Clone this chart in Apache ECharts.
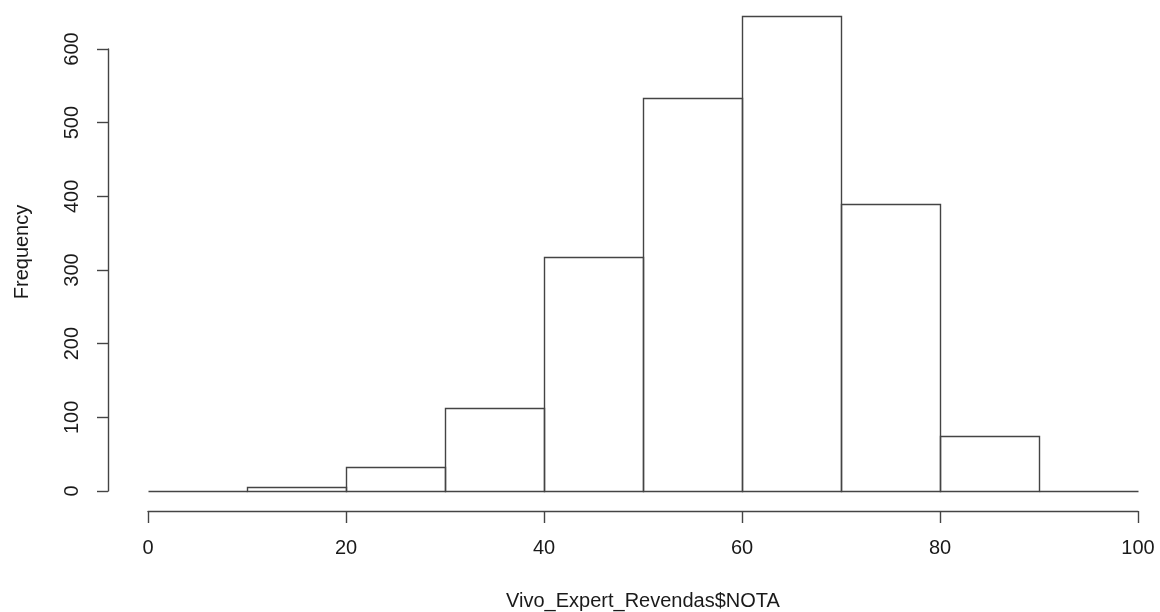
<!DOCTYPE html>
<html>
<head>
<meta charset="utf-8">
<script src="https://cdn.jsdelivr.net/npm/echarts@6/dist/echarts.min.js"></script>
<style>
html,body{margin:0;padding:0;background:#fff;}
#chart{width:1160px;height:612px;}
</style>
</head>
<body>
<div id="chart"></div>
<script>
// Histogram bins (left edge, right edge) and frequencies
var binStarts = [0, 10, 20, 30, 40, 50, 60, 70, 80, 90];
var binEnds   = [10, 20, 30, 40, 50, 60, 70, 80, 90, 100];
var counts    = [0, 5, 33, 113, 318, 533, 645, 390, 74, 0];
var xTitle = 'Vivo_Expert_Revendas$NOTA';
var yTitle = 'Frequency';

var data = binStarts.map(function (s, i) { return [s, binEnds[i], counts[i]]; });
var FONT = '"Liberation Sans", Arial, sans-serif';
var INK = '#444';
var LW = 1.4;
var TXT = '#1a1a1a';

var chart = echarts.init(document.getElementById('chart'), null, {renderer: 'canvas'});
chart.setOption({
  animation: false,
  backgroundColor: '#fff',
  grid: {left: 148, right: 22, top: 49, bottom: 121, containLabel: false, outerBoundsMode: 'none'},
  xAxis: {
    type: 'value', min: 0, max: 100, interval: 20,
    offset: 20,
    name: xTitle, nameLocation: 'middle', nameGap: 80,
    nameTextStyle: {fontFamily: FONT, fontSize: 20, color: TXT},
    axisLine: {show: true, onZero: false, lineStyle: {color: INK, width: LW}},
    axisTick: {show: true, length: 12, lineStyle: {color: INK, width: LW}},
    axisLabel: {fontFamily: FONT, fontSize: 20, color: TXT, margin: 27},
    splitLine: {show: false}
  },
  yAxis: {
    type: 'value', min: 0, max: 600, interval: 100,
    offset: 40,
    axisLine: {show: true, onZero: false, lineStyle: {color: INK, width: LW}},
    axisTick: {show: true, length: 11, lineStyle: {color: INK, width: LW}},
    axisLabel: {fontFamily: FONT, fontSize: 20, color: TXT, margin: 26, rotate: 90},
    splitLine: {show: false}
  },
  graphic: [{
    type: 'text', x: 22, y: 252, rotation: Math.PI / 2,
    style: {text: yTitle, font: '20px ' + FONT, fill: TXT, textAlign: 'center', textVerticalAlign: 'middle'}
  }],
  series: [{
    type: 'custom',
    encode: {x: [0, 1], y: 2},
    data: data,
    renderItem: function (params, api) {
      var a = api.coord([api.value(0), 0]);
      var b = api.coord([api.value(1), api.value(2)]);
      var x0 = Math.round(a[0]) + 0.5, x1 = Math.round(b[0]) + 0.5;
      var y0 = Math.round(a[1]) + 0.5, y1 = Math.round(b[1]) + 0.5;
      return {
        type: 'polygon',
        shape: {points: [[x0, y0], [x0, y1], [x1, y1], [x1, y0]]},
        style: {fill: 'none', stroke: INK, lineWidth: LW}
      };
    }
  }]
});
</script>
</body>
</html>
